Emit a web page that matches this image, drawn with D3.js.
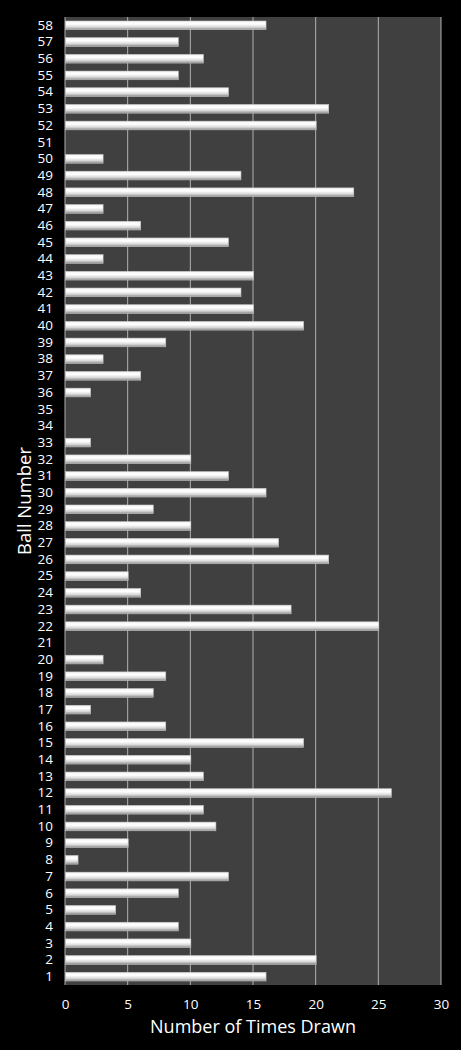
<!DOCTYPE html>
<html>
<head>
<meta charset="utf-8">
<script src="https://d3js.org/d3.v7.min.js"></script>
<style>
  body { margin: 0; background: #000; }
  text { font-family: "Open Sans", sans-serif; fill: #fff; }
</style>
</head>
<body>
<div id="chart"></div>
<script>
// ball numbers 1..58 and how often each was drawn
var balls = d3.range(1, 59);
var timesDrawn = [
  16, 20, 10, 9, 4, 9, 13, 1, 5, 12,
  11, 26, 11, 10, 19, 8, 2, 7, 8, 3,
  0, 25, 18, 6, 5, 21, 17, 10, 7, 16,
  13, 10, 2, 0, 0, 2, 6, 3, 8, 19,
  15, 14, 15, 3, 13, 6, 3, 23, 14, 3,
  0, 20, 21, 13, 9, 11, 9, 16
];
var xTicks = [0, 5, 10, 15, 20, 25, 30];

var W = 461, H = 1050;
var margin = { top: 17, right: 20, bottom: 65, left: 65 };
var width = W - margin.left - margin.right,
    height = H - margin.top - margin.bottom;

var svg = d3.select("#chart").append("svg")
  .attr("width", W)
  .attr("height", H);

// gradient for the shiny bars
var defs = svg.append("defs");
var grad = defs.append("linearGradient")
  .attr("id", "barGrad")
  .attr("x1", 0).attr("y1", 0).attr("x2", 0).attr("y2", 1);
grad.append("stop").attr("offset", "0%").attr("stop-color", "#f4f4f4");
grad.append("stop").attr("offset", "35%").attr("stop-color", "#ffffff");
grad.append("stop").attr("offset", "70%").attr("stop-color", "#d8d8d8");
grad.append("stop").attr("offset", "100%").attr("stop-color", "#8a8a8a");

var g = svg.append("g")
  .attr("transform", "translate(" + margin.left + "," + margin.top + ")");

var x = d3.scaleLinear().domain([0, 30]).range([0, width]);
var y = d3.scaleBand()
  .domain(balls.slice().reverse())
  .range([0, height])
  .paddingInner(0.48)
  .paddingOuter(0.24);

// plot background
g.append("rect")
  .attr("width", width)
  .attr("height", height)
  .attr("fill", "#404040");

// vertical gridlines
g.selectAll(".grid")
  .data(xTicks)
  .enter()
  .append("line")
  .attr("x1", function (d) { return x(d); })
  .attr("x2", function (d) { return x(d); })
  .attr("y1", 0)
  .attr("y2", height)
  .attr("stroke", "#b0b0b0")
  .attr("stroke-width", 1);

// bars
g.selectAll(".bar")
  .data(balls)
  .enter()
  .append("rect")
  .attr("x", x(0) + 0.5)
  .attr("y", function (d) { return y(d); })
  .attr("width", function (d) { return Math.max(0, x(timesDrawn[d - 1]) - x(0)); })
  .attr("height", y.bandwidth())
  .attr("fill", "url(#barGrad)")
  .attr("stroke", function (d) { return timesDrawn[d - 1] > 0 ? "#c8c8c8" : "none"; })
  .attr("stroke-width", 0.6);

// y axis labels
var yAxis = g.append("g")
  .call(d3.axisLeft(y).tickSize(0).tickPadding(12));
yAxis.select(".domain").remove();
yAxis.selectAll("text")
  .attr("font-size", 13.5)
  .attr("fill", "#fff");

// x axis labels
var xAxis = g.append("g")
  .attr("transform", "translate(0," + height + ")")
  .call(d3.axisBottom(x).tickValues(xTicks).tickSize(0).tickPadding(14));
xAxis.select(".domain").remove();
xAxis.selectAll("text")
  .attr("font-size", 13.5)
  .attr("fill", "#fff");

// axis titles
svg.append("text")
  .attr("x", margin.left + width / 2)
  .attr("y", 1033)
  .attr("text-anchor", "middle")
  .attr("font-size", 18)
  .text("Number of Times Drawn");

svg.append("text")
  .attr("transform", "translate(31," + (margin.top + height / 2) + ") rotate(-90)")
  .attr("text-anchor", "middle")
  .attr("font-size", 18.5)
  .text("Ball Number");
</script>
</body>
</html>
